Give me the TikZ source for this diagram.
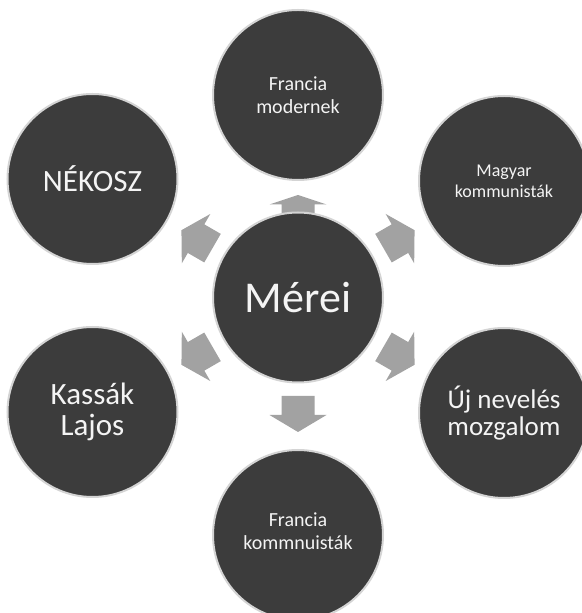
\documentclass[tikz,border=0pt]{standalone}
\usepackage{fontspec}
\setmainfont{Carlito}
\definecolor{circfill}{HTML}{3C3C3C}
\definecolor{circring}{HTML}{D4D4D4}
\definecolor{arrowfill}{HTML}{A2A2A2}
\definecolor{circtext}{HTML}{F4F4F4}
\begin{document}
\begin{tikzpicture}[
    x=1pt, y=1pt,
    every node/.style={text=circtext, align=center},
    hub/.style={
        circle,
        draw=circring,
        line width=2pt,
        fill=circfill,
        minimum size=170pt,
        inner sep=0pt
    },
    bigtext/.style={font=\fontsize{31}{31}\selectfont},
    smalltext/.style={font=\fontsize{20}{23}\selectfont},
    pics/radarrow/.style n args={3}{code={
        \fill[arrowfill] (#1,-16.5) -- (#2,-16.5) -- (#2,-28.5) -- (#3,0)
            -- (#2,28.5) -- (#2,16.5) -- (#1,16.5) -- cycle;
    }}
]
    \useasboundingbox (0,0) rectangle (581,613);

    % Centre point
    \coordinate (c) at (298,315.5);

    % Arrows out of the centre
    \pic[rotate=90]  at (c) {radarrow={84}{93}{102.5}};
    \pic[rotate=30]  at (c) {radarrow={98.7}{117.7}{134.6}};
    \pic[rotate=150] at (c) {radarrow={98.7}{117.7}{134.6}};
    \pic[rotate=210] at (c) {radarrow={98.7}{117.7}{134.6}};
    \pic[rotate=330] at (c) {radarrow={98.7}{117.7}{134.6}};
    \pic[rotate=270] at (c) {radarrow={98.5}{117.5}{134.5}};

    % Centre circle
    \node[hub, font=\fontsize{44}{48}\selectfont] (merei) at (c) {Mérei};

    % Outer circles
    \node[hub, smalltext] (modern) at (298,518) {Francia\\ modernek};
    \node[hub, font=\fontsize{18}{21}\selectfont] (magyar) at (504,432)
        {Magyar\\ kommunisták};
    \node[hub, font=\fontsize{27}{27}\selectfont] (ujnev) at (504,200)
        {Új nevelés\\ mozgalom};
    \node[hub, smalltext, text depth=8pt] (frkomm) at (298,78)
        {Francia\\ kommnuisták};
    \node[hub, bigtext] (kassak) at (92.5,201) {Kassák\\ Lajos};
    \node[hub, bigtext] (nekosz) at (92.5,434) {NÉKOSZ};

\end{tikzpicture}
\end{document}
